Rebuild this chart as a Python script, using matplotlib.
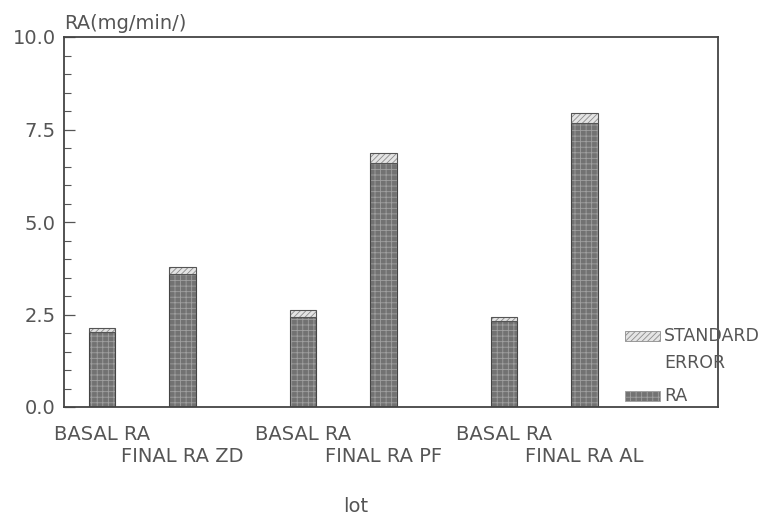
import matplotlib.pyplot as plt
from matplotlib.patches import Rectangle

# Basal and final RA per lot, with standard error stacked on top
categories = ["BASAL RA", "FINAL RA ZD", "BASAL RA", "FINAL RA PF", "BASAL RA", "FINAL RA AL"]
positions = [0, 1, 2.5, 3.5, 5, 6]
ra = [2.03, 3.60, 2.43, 6.59, 2.32, 7.68]
se = [0.10, 0.18, 0.19, 0.27, 0.11, 0.27]

plt.rcParams["hatch.linewidth"] = 0.6
txt = "#555555"

fig = plt.figure(figsize=(7.65, 5.16), dpi=100)
ax = fig.add_axes([64 / 765, 1 - 407 / 516, 654 / 765, 370 / 516])

ax.bar(positions, ra, width=0.33, color="#727272", hatch="+++",
       edgecolor="#a0a0a0", linewidth=0.0)
ax.bar(positions, ra, width=0.33, fill=False, edgecolor="#444444", linewidth=0.8)
ax.bar(positions, se, bottom=ra, width=0.33, color="#e4e4e4", hatch="//////",
       edgecolor="#8c8c8c", linewidth=0.0)
ax.bar(positions, se, bottom=ra, width=0.33, fill=False, edgecolor="#555555", linewidth=0.8)

ax.set_xlim(-0.47, 7.66)
ax.set_ylim(0, 10)

# Y axis: major every 2.5, minor every 0.5, ticks pointing inward
ax.set_yticks([0, 2.5, 5, 7.5, 10])
ax.set_yticklabels(["0.0", "2.5", "5.0", "7.5", "10.0"])
ax.set_yticks([i * 0.5 for i in range(21)], minor=True)
ax.tick_params(axis="y", which="major", direction="in", length=8, width=0.9,
               colors="#555555", labelcolor=txt, labelsize=14, pad=6)
ax.tick_params(axis="y", which="minor", direction="in", length=5, width=0.8, colors="#555555")

# Staggered category labels: basal on the major ticks, final one row lower on minor ticks
ax.set_xticks(positions[0::2])
ax.set_xticklabels(categories[0::2], fontsize=14, color=txt)
ax.set_xticks(positions[1::2], minor=True)
ax.set_xticklabels(categories[1::2], minor=True, fontsize=14, color=txt)
ax.tick_params(axis="x", which="major", length=0, pad=13)
ax.tick_params(axis="x", which="minor", length=0, pad=29)

for s in ax.spines.values():
    s.set_color("#444444")
    s.set_linewidth(1.3)

ax.text(0.0, 1.012, "RA(mg/min/)", transform=ax.transAxes, fontsize=14,
        color=txt, ha="left", va="bottom")
fig.text(356 / 765, 1 - 506 / 516, "lot", fontsize=14, color=txt, ha="center", va="center")

# Legend keys drawn to the right of the plot
fig.add_artist(Rectangle((625 / 765, 1 - 341 / 516), 35 / 765, 10 / 516,
                         transform=fig.transFigure, facecolor="#e4e4e4", hatch="//////",
                         edgecolor="#8c8c8c", linewidth=0.6))
fig.text(664 / 765, 1 - 336 / 516, "STANDARD", fontsize=12.5, color=txt, va="center")
fig.text(664 / 765, 1 - 363 / 516, "ERROR", fontsize=12.5, color=txt, va="center")
fig.add_artist(Rectangle((625 / 765, 1 - 401 / 516), 35 / 765, 10 / 516,
                         transform=fig.transFigure, facecolor="#727272", hatch="+++",
                         edgecolor="#a0a0a0", linewidth=0.6))
fig.text(664 / 765, 1 - 396 / 516, "RA", fontsize=12.5, color=txt, va="center")

fig.savefig("out.png", dpi=100)
